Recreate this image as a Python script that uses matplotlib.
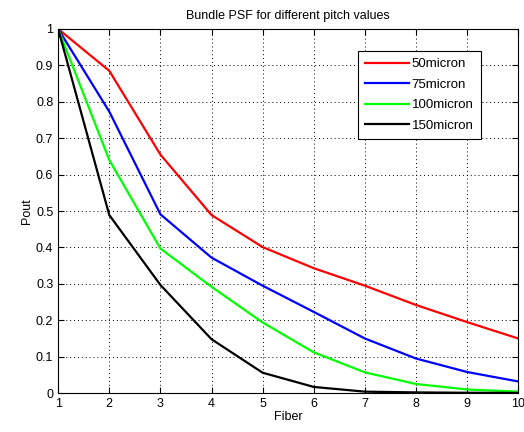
import matplotlib
matplotlib.use("Agg")
import matplotlib.pyplot as plt

plt.rcParams['font.family'] = ['Liberation Sans', 'DejaVu Sans']

fiber = [1, 2, 3, 4, 5, 6, 7, 8, 9, 10]
p50 = [1.0, 0.885, 0.655, 0.489, 0.401, 0.343, 0.295, 0.242, 0.195, 0.150]
p75 = [1.0, 0.773, 0.491, 0.372, 0.295, 0.223, 0.150, 0.095, 0.058, 0.032]
p100 = [1.0, 0.640, 0.397, 0.292, 0.194, 0.112, 0.057, 0.025, 0.010, 0.004]
p150 = [1.0, 0.489, 0.297, 0.148, 0.056, 0.017, 0.004, 0.002, 0.001, 0.0005]
labels = ['50micron', '75micron', '100micron', '150micron']
colors = ['#ff0000', '#0000ff', '#00ff00', '#000000']

fig = plt.figure(figsize=(5.24, 4.32), dpi=100)
ax = fig.add_axes([0.111, 0.090, 0.878, 0.843])

for y, lab, c in zip([p50, p75, p100, p150], labels, colors):
    ax.plot(fiber, y, color=c, lw=1.6, label=lab)

ax.set_xlim(1, 10)
ax.set_ylim(0, 1)
ax.set_xticks(range(1, 11))
ax.set_yticks([i / 10 for i in range(11)])
ax.set_yticklabels(['0', '0.1', '0.2', '0.3', '0.4', '0.5', '0.6', '0.7', '0.8', '0.9', '1'])
ax.tick_params(direction='in', labelsize=9, length=4, top=True, right=True)
ax.grid(True, color='black', linestyle=(0, (1, 3)), linewidth=0.7)
for s in ax.spines.values():
    s.set_linewidth(0.8)

ax.set_xlabel('Fiber', fontsize=9, labelpad=1)
ax.set_ylabel('Pout', fontsize=9, labelpad=2)
ax.set_title('Bundle PSF for different pitch values', fontsize=9, pad=7)

leg = ax.legend(loc='upper left', bbox_to_anchor=(0.652, 0.94), fontsize=9.5,
                fancybox=False, framealpha=1, edgecolor='black',
                handlelength=3.3, handletextpad=0.2, borderpad=0.55,
                labelspacing=0.62, borderaxespad=0)
leg.get_frame().set_linewidth(0.8)

fig.savefig('out.png', dpi=100)
